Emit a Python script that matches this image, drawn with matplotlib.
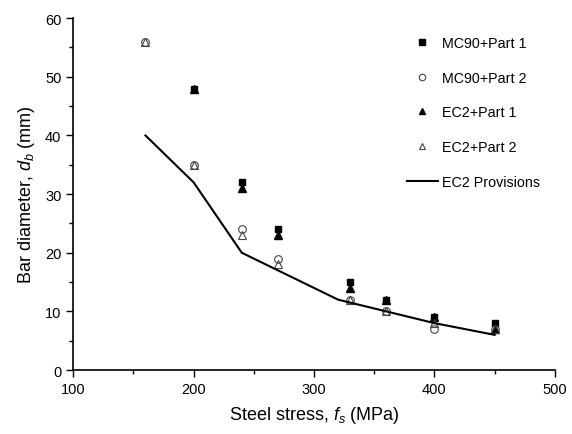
import matplotlib

matplotlib.use("Agg")
import matplotlib.pyplot as plt
from matplotlib.ticker import MultipleLocator

plt.rcParams["font.family"] = ["Liberation Sans", "DejaVu Sans"]
plt.rcParams["mathtext.fontset"] = "custom"
plt.rcParams["mathtext.rm"] = "Liberation Sans"
plt.rcParams["mathtext.it"] = "Liberation Sans:italic"

# steel stress (MPa) / bar diameter (mm)
fs_part1 = [200, 240, 270, 330, 360, 400, 450]
db_mc90_part1 = [48, 32, 24, 15, 12, 9, 8]
db_ec2_part1 = [48, 31, 23, 14, 12, 9, 7]

fs_part2 = [160, 200, 240, 270, 330, 360, 400, 450]
db_mc90_part2 = [56, 35, 24, 19, 12, 10, 7, 7]
db_ec2_part2 = [56, 35, 23, 18, 12, 10, 8, 7]

fs_prov = [160, 200, 240, 280, 320, 360, 400, 450]
db_prov = [40, 32, 20, 16, 12, 10, 8, 6]

fig = plt.figure(figsize=(5.72, 4.35), dpi=100)
ax = fig.add_axes([0.128, 0.147, 0.842, 0.809])

ax.plot(fs_part1, db_mc90_part1, ls="none", marker="s", ms=4.5,
        color="black", label="MC90+Part 1")
ax.plot(fs_part2, db_mc90_part2, ls="none", marker="o", ms=5.5,
        mfc="none", mec="#444444", mew=0.8, label="MC90+Part 2")
ax.plot(fs_part1, db_ec2_part1, ls="none", marker="^", ms=5.5,
        color="black", label="EC2+Part 1")
ax.plot(fs_part2, db_ec2_part2, ls="none", marker="^", ms=5.5,
        mfc="none", mec="#444444", mew=0.8, label="EC2+Part 2")
ax.plot(fs_prov, db_prov, color="black", lw=1.5, label="EC2 Provisions")

ax.set_xlim(100, 500)
ax.set_ylim(0, 60)
ax.xaxis.set_major_locator(MultipleLocator(100))
ax.xaxis.set_minor_locator(MultipleLocator(50))
ax.yaxis.set_major_locator(MultipleLocator(10))
ax.yaxis.set_minor_locator(MultipleLocator(5))
ax.tick_params(which="major", direction="out", length=5, width=1, labelsize=10.5)
ax.tick_params(which="minor", direction="out", length=3, width=1)
for side in ("top", "right"):
    ax.spines[side].set_visible(False)
for side in ("left", "bottom"):
    ax.spines[side].set_linewidth(1.2)

ax.set_xlabel("Steel stress, $f_s$ (MPa)", fontsize=13, labelpad=6)
ax.set_ylabel("Bar diameter, $d_b$ (mm)", fontsize=13, labelpad=6)

ax.legend(loc="upper right", frameon=False, fontsize=10.3, labelspacing=1.45,
          handlelength=2.2, handletextpad=0.3, borderaxespad=0.1,
          markerscale=0.85, bbox_to_anchor=(0.985, 0.97))

fig.savefig("out.png", dpi=100)
